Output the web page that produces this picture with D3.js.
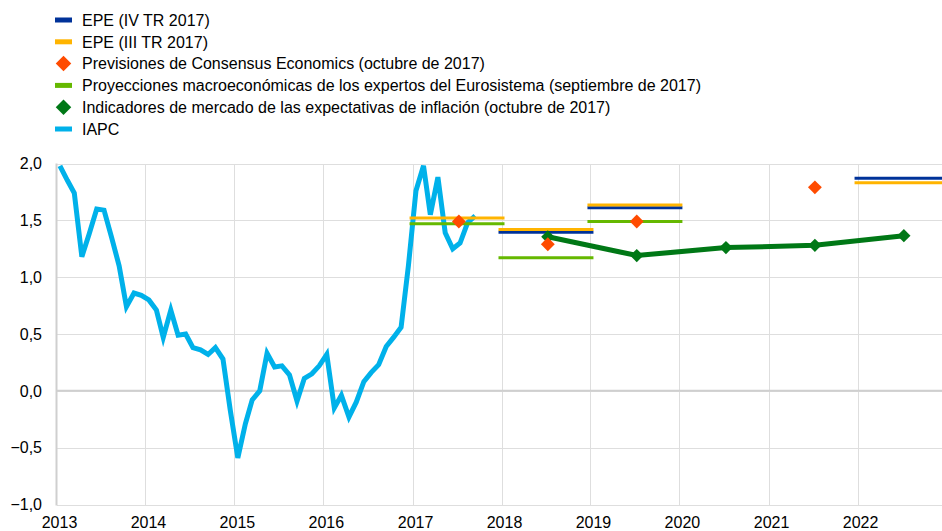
<!DOCTYPE html>
<html lang="es">
<head>
    <meta charset="UTF-8">
    <title>IAPC y expectativas de inflación</title>
    <script src="https://d3js.org/d3.v7.min.js"></script>
    <style>
        body { margin: 0; background: #fff; font-family: "Liberation Sans", Arial, sans-serif; }
        svg text { font-family: "Liberation Sans", Arial, sans-serif; font-size: 16px; fill: #000; }
        .grid line { stroke: #dedede; stroke-width: 1px; shape-rendering: crispEdges; }
    </style>
</head>
<body>
    <svg id="chart"></svg>
    <script>
        const width = 942;
        const height = 531;

        // IAPC, variación interanual, mensual desde enero de 2013
        const iapcStart = new Date(2013, 0, 15);
        const iapcValues = [
            1.98, 1.85, 1.74, 1.18, 1.38, 1.60, 1.59, 1.35, 1.10, 0.74, 0.86, 0.84,
            0.80, 0.71, 0.47, 0.71, 0.49, 0.50, 0.38, 0.36, 0.32, 0.38, 0.28, -0.17,
            -0.59, -0.29, -0.08, 0.00, 0.33, 0.21, 0.22, 0.14, -0.09, 0.11, 0.15, 0.22,
            0.32, -0.15, -0.04, -0.23, -0.10, 0.08, 0.16, 0.23, 0.39, 0.47, 0.56, 1.10,
            1.76, 1.98, 1.55, 1.88, 1.39, 1.25, 1.30, 1.48, 1.54
        ];

        const epeQ4Years = [2018, 2019, 2022];
        const epeQ4Values = [1.395, 1.61, 1.87];
        const epeQ3Years = [2017, 2018, 2019, 2022];
        const epeQ3Values = [1.52, 1.42, 1.635, 1.83];
        const staffYears = [2017, 2018, 2019];
        const staffValues = [1.47, 1.17, 1.49];
        const consensusYears = [2017, 2018, 2019, 2021];
        const consensusValues = [1.49, 1.29, 1.49, 1.79];
        const marketYears = [2018, 2019, 2020, 2021, 2022];
        const marketValues = [1.355, 1.19, 1.26, 1.28, 1.365];

        const yearTicks = d3.range(2013, 2023);
        const yTicks = [-1.0, -0.5, 0.0, 0.5, 1.0, 1.5, 2.0];

        const legendItems = [
            { label: "EPE (IV TR 2017)", type: "line", color: "#003299" },
            { label: "EPE (III TR 2017)", type: "line", color: "#ffb400" },
            { label: "Previsiones de Consensus Economics (octubre de 2017)", type: "diamond", color: "#ff4b00" },
            { label: "Proyecciones macroeconómicas de los expertos del Eurosistema (septiembre de 2017)", type: "line", color: "#65b800" },
            { label: "Indicadores de mercado de las expectativas de inflación (octubre de 2017)", type: "diamond", color: "#007816" },
            { label: "IAPC", type: "line", color: "#00b1ea" }
        ];

        const svg = d3.select("#chart")
            .attr("width", width)
            .attr("height", height);

        svg.append("rect").attr("width", width).attr("height", height).attr("fill", "#fff");

        const x = d3.scaleTime()
            .domain([new Date(2013, 0, 1), new Date(2023, 0, 1)])
            .range([56.5, 946.5]);

        const y = d3.scaleLinear()
            .domain([-1, 2])
            .range([504.5, 163.5]);

        const fmt = d3.format(".1f");
        const comma = v => fmt(v).replace(".", ",");

        // grid
        const grid = svg.append("g").attr("class", "grid");
        grid.selectAll(".h").data(yTicks).enter().append("line")
            .attr("x1", x.range()[0]).attr("x2", width)
            .attr("y1", d => Math.round(y(d)) + 0.5).attr("y2", d => Math.round(y(d)) + 0.5);
        grid.selectAll(".v").data(yearTicks.slice(1)).enter().append("line")
            .attr("x1", d => Math.round(x(new Date(d, 0, 1))) + 0.5)
            .attr("x2", d => Math.round(x(new Date(d, 0, 1))) + 0.5)
            .attr("y1", y(2)).attr("y2", y(-1));

        // zero line and left axis
        svg.append("line")
            .attr("x1", x.range()[0]).attr("x2", width)
            .attr("y1", y(0)).attr("y2", y(0))
            .attr("stroke", "#cfcfcf").attr("stroke-width", 2);
        svg.append("line")
            .attr("x1", x.range()[0]).attr("x2", x.range()[0])
            .attr("y1", y(2)).attr("y2", y(-1) + 1)
            .attr("stroke", "#cfcfcf").attr("stroke-width", 2);

        // tick labels
        svg.selectAll(".ylab").data(yTicks).enter().append("text")
            .attr("x", 42).attr("y", d => y(d)).attr("dy", "0.36em")
            .attr("text-anchor", "end")
            .text(comma);
        svg.selectAll(".xlab").data(yearTicks).enter().append("text")
            .attr("x", d => x(new Date(d, 0, 1)) + 3).attr("y", 522).attr("dy", "0.36em")
            .attr("text-anchor", "middle")
            .text(d => d);

        // IAPC
        const iapc = iapcValues.map((v, i) => ({ date: d3.timeMonth.offset(iapcStart, i), v }));
        svg.append("path")
            .datum(iapc)
            .attr("fill", "none")
            .attr("stroke", "#00b1ea")
            .attr("stroke-width", 5)
            .attr("d", d3.line().x(d => x(d.date)).y(d => y(d.v)));

        // year segments
        const pad = 3;
        function segments(years, values, color) {
            const data = years.map((yr, i) => ({ yr, v: values[i] }));
            svg.append("g").selectAll("line").data(data).enter().append("line")
                .attr("x1", d => x(new Date(d.yr, 0, 1)) - pad)
                .attr("x2", d => Math.min(width, x(new Date(d.yr + 1, 0, 1)) + pad))
                .attr("y1", d => y(d.v)).attr("y2", d => y(d.v))
                .attr("stroke", color).attr("stroke-width", 3);
        }
        segments(epeQ4Years, epeQ4Values, "#003299");
        segments(epeQ3Years, epeQ3Values, "#ffb400");
        segments(staffYears, staffValues, "#65b800");

        const midYear = yr => new Date(yr, 6, 10);
        const diamond = d3.symbol().type(d3.symbolSquare);

        // market indicators
        const market = marketYears.map((yr, i) => ({ yr, v: marketValues[i] }));
        svg.append("path")
            .datum(market)
            .attr("fill", "none")
            .attr("stroke", "#007816")
            .attr("stroke-width", 5)
            .attr("d", d3.line().x(d => x(midYear(d.yr))).y(d => y(d.v)));
        svg.append("g").selectAll("path").data(market).enter().append("path")
            .attr("d", diamond.size(88)())
            .attr("fill", "#007816")
            .attr("transform", d => `translate(${x(midYear(d.yr))},${y(d.v)}) rotate(45)`);

        // consensus
        const consensus = consensusYears.map((yr, i) => ({ yr, v: consensusValues[i] }));
        svg.append("g").selectAll("path").data(consensus).enter().append("path")
            .attr("d", diamond.size(96)())
            .attr("fill", "#ff4b00")
            .attr("transform", d => `translate(${x(midYear(d.yr))},${y(d.v)}) rotate(45)`);

        // legend
        const legend = svg.append("g");
        const rows = legend.selectAll("g").data(legendItems).enter().append("g")
            .attr("transform", (d, i) => `translate(0,${20 + i * 21.8})`);
        rows.filter(d => d.type === "line").append("rect")
            .attr("x", 55).attr("y", -2.5).attr("width", 17).attr("height", 5)
            .attr("fill", d => d.color);
        rows.filter(d => d.type === "diamond").append("path")
            .attr("d", diamond.size(120)())
            .attr("fill", d => d.color)
            .attr("transform", "translate(63.5,0) rotate(45)");
        rows.append("text")
            .attr("x", 82).attr("dy", "0.36em")
            .text(d => d.label);
    </script>
</body>
</html>
